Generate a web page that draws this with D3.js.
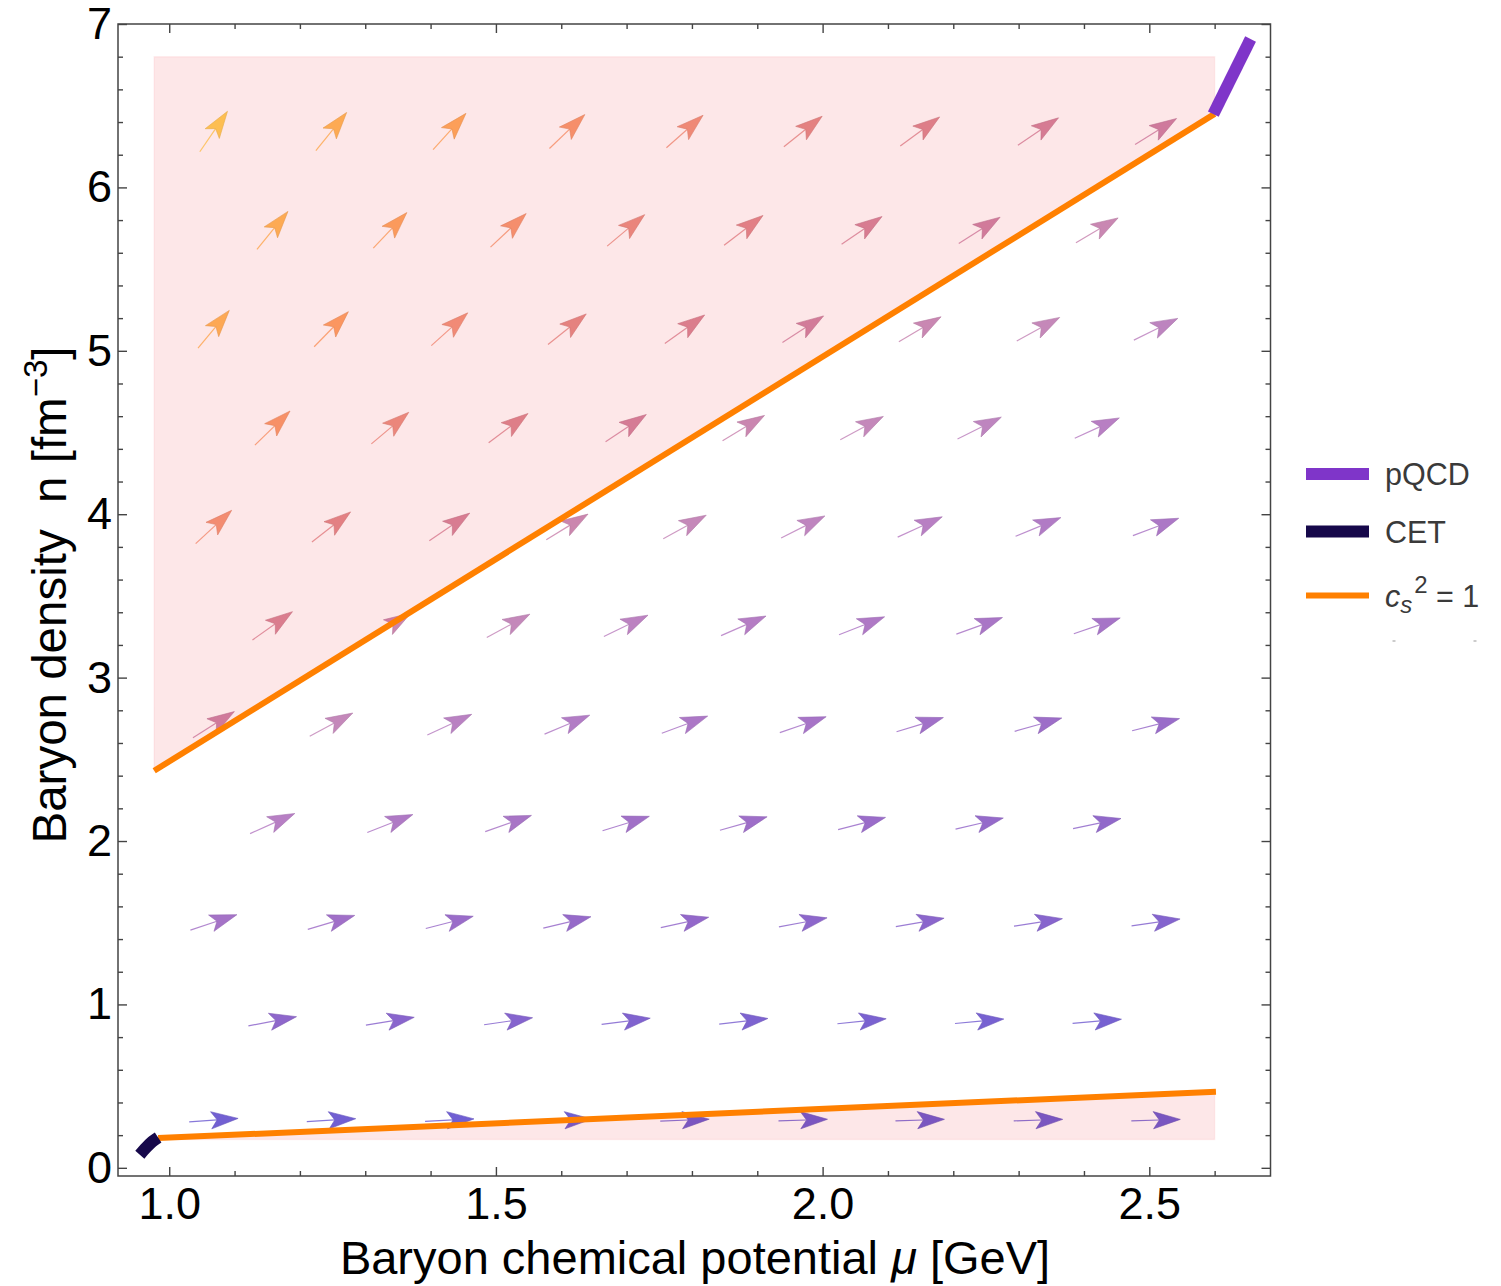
<!DOCTYPE html>
<html>
<head>
<meta charset="utf-8">
<script src="https://cdn.jsdelivr.net/npm/d3@7"></script>
<style>
  body { margin: 0; background: #fff; }
  svg { display: block; }
  text { font-family: "Liberation Sans", Arial, Helvetica, sans-serif; }
</style>
</head>
<body>
<div id="chart"></div>
<script>
// vector grid: rows of baryon density (fm^-3), columns of mu (GeV)
var rowDensity = [6.342, 5.737, 5.132, 4.527, 3.922, 3.317, 2.712, 2.107, 1.502, 0.897, 0.292];
var colsWide   = [1.068, 1.248, 1.429, 1.609, 1.789, 1.970, 2.149, 2.330, 2.510]; // even rows
var colsNarrow = [1.158, 1.338, 1.519, 1.699, 1.879, 2.060, 2.240, 2.420];        // odd rows

// direction of each arrow as drawn (degrees above horizontal), one list per row
var arrowAngles = [
  [55.6, 51.1, 47.8, 43.8, 41.6, 38.6, 36.5, 34.0, 32.1],
  [50.8, 46.7, 43.3, 40.0, 37.5, 34.4, 32.5, 30.6],
  [50.3, 45.7, 42.0, 38.7, 35.6, 32.9, 30.5, 28.8, 26.3],
  [44.2, 40.2, 36.6, 33.7, 31.1, 28.5, 26.6, 24.5],
  [42.7, 37.9, 34.4, 31.6, 28.7, 26.7, 24.5, 22.4, 20.8],
  [35.3, 31.5, 28.4, 25.7, 23.5, 21.5, 19.8, 18.8],
  [32.3, 28.4, 25.0, 22.8, 20.5, 19.0, 16.9, 15.8, 14.4],
  [24.2, 21.5, 19.4, 17.1, 15.9, 14.5, 13.0, 11.8],
  [18.4, 16.6, 14.5, 13.4, 12.2, 10.7, 9.9, 8.8, 8.0],
  [10.8, 9.3, 8.2, 7.2, 6.5, 5.8, 5.2, 4.8],
  [4.0, 3.3, 2.9, 2.5, 2.2, 2.0, 1.9, 1.8, 1.7]
];

// c_s^2 = 1 lines
var cs2UpperMu = [0.977, 2.600];
var cs2UpperN  = [2.430, 6.450];
var cs2LowerMu = [0.983, 2.602];
var cs2LowerN  = [0.182, 0.466];

// CET and pQCD bands
var cetMu  = [0.955, 0.965, 0.974, 0.983];
var cetN   = [0.080, 0.125, 0.160, 0.186];
var pqcdMu = [2.598, 2.655];
var pqcdN  = [6.448, 6.908];

// shaded (excluded) region limits
var shadeMu = [0.977, 2.600];
var shadeN  = [0.174, 6.800];

// ticks
var xMajor = [1.0, 1.5, 2.0, 2.5];
var xLabels = ["1.0", "1.5", "2.0", "2.5"];
var yMajor = [0, 1, 2, 3, 4, 5, 6, 7];
var yLabels = ["0", "1", "2", "3", "4", "5", "6", "7"];

// legend
var legendNames = ["pQCD", "CET", "cs2"];
var legendColors = ["#7f35c9", "#16084a", "#ff8000"];
var legendWidths = [12, 12, 6];

// ---------------------------------------------------------------
var W = 1501, H = 1286;
var plotLeft = 118, plotRight = 1270.5, plotTop = 24, plotBottom = 1176;

var svg = d3.select("#chart").append("svg")
  .attr("width", W)
  .attr("height", H);

var x = d3.scaleLinear().domain([0.9216, 2.6855]).range([plotLeft, plotRight]);
var y = d3.scaleLinear().domain([-0.05, 7.0]).range([plotBottom, plotTop]);

// arrow colour follows the arrow direction
var arrowColor = d3.scaleLinear()
  .domain([0, 4, 8, 12, 16, 20, 24, 28, 32, 35, 38.5, 42, 45, 48.5, 52, 56])
  .range(["#6a5cd4", "#7260d2", "#8464ce", "#9268ca", "#9e6ec8", "#aa76c6", "#b67ec4",
          "#c388bc", "#cc86ac", "#d8889c", "#e48e8c", "#f29880", "#fca26a", "#ffb25e",
          "#ffc058", "#ffd458"])
  .clamp(true);

var arrows = [];
rowDensity.forEach(function(n, r) {
  var cols = r % 2 === 0 ? colsWide : colsNarrow;
  cols.forEach(function(mu, i) {
    arrows.push({ mu: mu, n: n, angle: arrowAngles[r][i] });
  });
});

var L = 49, headLen = 27, headHalf = 8.6, notch = 21;

function geom(d) {
  var a = d.angle * Math.PI / 180;
  var ux = Math.cos(a), uy = -Math.sin(a);
  var cx = x(d.mu), cy = y(d.n);
  var tip = [cx + ux * L / 2, cy + uy * L / 2];
  var tail = [cx - ux * L / 2, cy - uy * L / 2];
  var b = [tip[0] - ux * headLen, tip[1] - uy * headLen];
  var nb = [tip[0] - ux * notch, tip[1] - uy * notch];
  var px = -uy, py = ux;
  return {
    tail: tail, neck: nb,
    head: [tip, [b[0] + px * headHalf, b[1] + py * headHalf], nb, [b[0] - px * headHalf, b[1] - py * headHalf]]
  };
}

var ag = svg.append("g").attr("class", "arrows");
var arrowG = ag.selectAll("g").data(arrows).enter().append("g");

arrowG.append("line")
  .attr("x1", function(d) { return geom(d).tail[0]; })
  .attr("y1", function(d) { return geom(d).tail[1]; })
  .attr("x2", function(d) { return geom(d).neck[0]; })
  .attr("y2", function(d) { return geom(d).neck[1]; })
  .attr("stroke", function(d) { return arrowColor(d.angle); })
  .attr("stroke-width", 1.2)
  .attr("stroke-opacity", 0.85);

arrowG.append("path")
  .attr("d", function(d) { return "M" + geom(d).head.join("L") + "Z"; })
  .attr("fill", function(d) { return arrowColor(d.angle); })
  .attr("stroke", function(d) { return d3.color(arrowColor(d.angle)).darker(0.3); })
  .attr("stroke-width", 0.6)
  .attr("stroke-linejoin", "miter");

// shaded regions laid over the arrows
var upperPoly = [[shadeMu[0], cs2UpperN[0]], [shadeMu[0], shadeN[1]], [shadeMu[1], shadeN[1]], [shadeMu[1], cs2UpperN[1]]];
var lowerPoly = [[cs2LowerMu[0], shadeN[0]], [shadeMu[1], shadeN[0]], [shadeMu[1], cs2LowerN[1]], [cs2LowerMu[0], cs2LowerN[0]]];
var polyLine = d3.line().x(function(d) { return x(d[0]); }).y(function(d) { return y(d[1]); });

svg.selectAll("path.shade")
  .data([upperPoly, lowerPoly])
  .enter().append("path")
  .attr("class", "shade")
  .attr("d", function(d) { return polyLine(d) + "Z"; })
  .attr("fill", "#f01020")
  .attr("fill-opacity", 0.1)
  .attr("stroke", "#f01020")
  .attr("stroke-opacity", 0.06)
  .attr("stroke-width", 1.5);

function pts(mus, ns) { return mus.map(function(m, i) { return [m, ns[i]]; }); }
var curve = d3.line().x(function(d) { return x(d[0]); }).y(function(d) { return y(d[1]); }).curve(d3.curveMonotoneX);

svg.append("path").attr("d", curve(pts(cs2UpperMu, cs2UpperN)))
  .attr("fill", "none").attr("stroke", "#ff8000").attr("stroke-width", 6);
svg.append("path").attr("d", curve(pts(cs2LowerMu, cs2LowerN)))
  .attr("fill", "none").attr("stroke", "#ff8000").attr("stroke-width", 6);
svg.append("path").attr("d", curve(pts(cetMu, cetN)))
  .attr("fill", "none").attr("stroke", "#16084a").attr("stroke-width", 12);
svg.append("path").attr("d", curve(pts(pqcdMu, pqcdN)))
  .attr("fill", "none").attr("stroke", "#7f35c9").attr("stroke-width", 12);

// frame with ticks on all sides
var frameColor = "#444";
var xMinor = d3.range(10, 27).map(function(v) { return v / 10; }).filter(function(v) { return xMajor.indexOf(v) < 0; });
var yMinor = d3.range(0, 36).map(function(v) { return v / 5; }).filter(function(v) { return v % 1 !== 0; });

function styleAxis(g) {
  g.select(".domain").remove();
  g.selectAll("line").attr("stroke", frameColor).attr("stroke-width", 1.4);
  g.attr("font-family", "Liberation Sans, Arial, sans-serif").attr("font-size", 45);
  g.selectAll("text").attr("fill", "#000");
}

svg.append("g").attr("transform", "translate(0," + plotBottom + ")")
  .call(d3.axisBottom(x).tickValues(xMajor).tickFormat(function(d, i) { return xLabels[i]; }).tickSize(-9).tickPadding(11))
  .call(styleAxis);
svg.append("g").attr("transform", "translate(0," + plotBottom + ")")
  .call(d3.axisBottom(x).tickValues(xMinor).tickFormat("").tickSize(-5))
  .call(styleAxis);
svg.append("g").attr("transform", "translate(0," + plotTop + ")")
  .call(d3.axisTop(x).tickValues(xMajor).tickFormat("").tickSize(-9))
  .call(styleAxis);
svg.append("g").attr("transform", "translate(0," + plotTop + ")")
  .call(d3.axisTop(x).tickValues(xMinor).tickFormat("").tickSize(-5))
  .call(styleAxis);

svg.append("g").attr("transform", "translate(" + plotLeft + ",0)")
  .call(d3.axisLeft(y).tickValues(yMajor).tickFormat(function(d, i) { return yLabels[i]; }).tickSize(-9).tickPadding(6))
  .call(styleAxis);
svg.append("g").attr("transform", "translate(" + plotLeft + ",0)")
  .call(d3.axisLeft(y).tickValues(yMinor).tickFormat("").tickSize(-5))
  .call(styleAxis);
svg.append("g").attr("transform", "translate(" + plotRight + ",0)")
  .call(d3.axisRight(y).tickValues(yMajor).tickFormat("").tickSize(-9))
  .call(styleAxis);
svg.append("g").attr("transform", "translate(" + plotRight + ",0)")
  .call(d3.axisRight(y).tickValues(yMinor).tickFormat("").tickSize(-5))
  .call(styleAxis);

svg.append("rect")
  .attr("x", plotLeft).attr("y", plotTop)
  .attr("width", plotRight - plotLeft).attr("height", plotBottom - plotTop)
  .attr("fill", "none").attr("stroke", frameColor).attr("stroke-width", 1.5);

// axis titles
var xt = svg.append("text")
  .attr("x", 695).attr("y", 1274)
  .attr("text-anchor", "middle")
  .attr("font-size", 47)
  .attr("fill", "#000");
xt.append("tspan").text("Baryon chemical potential ");
xt.append("tspan").attr("font-style", "italic").text("\u03bc");
xt.append("tspan").text(" [GeV]");

var yt = svg.append("text")
  .attr("transform", "translate(66,595) rotate(-90)")
  .attr("text-anchor", "middle")
  .attr("font-size", 47.5)
  .attr("fill", "#000");
yt.append("tspan").text("Baryon density\u00a0\u00a0n [fm");
yt.append("tspan").attr("font-size", 33).attr("dy", -19).text("\u22123");
yt.append("tspan").attr("dy", 19).text("]");

// legend
var legY = [474, 531.5, 595.5];
var leg = svg.append("g").attr("class", "legend");
legendNames.forEach(function(name, i) {
  leg.append("line")
    .attr("x1", 1306).attr("x2", 1369)
    .attr("y1", legY[i]).attr("y2", legY[i])
    .attr("stroke", legendColors[i])
    .attr("stroke-width", legendWidths[i]);
  var t = leg.append("text")
    .attr("x", 1385).attr("y", legY[i] + 11)
    .attr("font-size", 30.5)
    .attr("fill", "#3a3a3a");
  if (name === "cs2") {
    t.append("tspan").attr("font-style", "italic").text("c");
    t.append("tspan").attr("font-style", "italic").attr("font-size", 24).attr("dy", 6).text("s");
    t.append("tspan").attr("font-size", 24).attr("dy", -20).attr("dx", 2).text("2");
    t.append("tspan").attr("dy", 14).text(" = 1");
  } else {
    t.text(name);
  }
});
// faint leftover marks of an empty legend row
leg.selectAll("rect.stub").data([1394, 1475]).enter().append("rect")
  .attr("class", "stub")
  .attr("x", function(d) { return d - 1.5; }).attr("y", 640.5)
  .attr("width", 3).attr("height", 1)
  .attr("fill", "#9a9a9a");
</script>
</body>
</html>
